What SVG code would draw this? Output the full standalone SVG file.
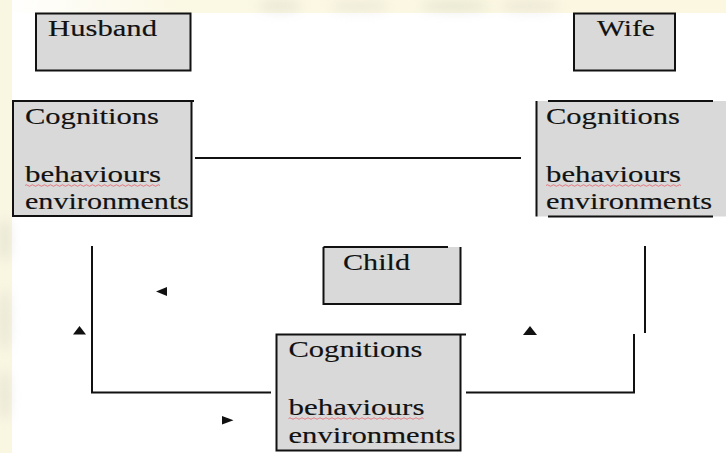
<svg xmlns="http://www.w3.org/2000/svg" width="726" height="453" viewBox="0 0 726 453">
  <style>
    .box { fill: #d9d9d9; stroke: none; }
    .edge { fill: none; stroke: #111; stroke-width: 2; }
    .lbl { font-family: "Liberation Serif", "Times New Roman", serif; font-size: 23.5px; fill: #111; stroke: #111; stroke-width: 0.15; }
    .wire { fill: none; stroke: #111; stroke-width: 2; }
    .tri { fill: #111; }
    .squiggle { fill: none; stroke: #e8606a; stroke-width: 0.8; }
  </style>
  <defs>
    <filter id="haze" x="-50%" y="-50%" width="200%" height="200%">
      <feGaussianBlur stdDeviation="6"/>
    </filter>
    <linearGradient id="topBand" x1="0" y1="0" x2="1" y2="0">
      <stop offset="0" stop-color="#ffffff"/>
      <stop offset="0.25" stop-color="#fbf8e4"/>
      <stop offset="1" stop-color="#fbf7e0"/>
    </linearGradient>
  </defs>

  <!-- page background with faint cream edge bands -->
  <rect x="0" y="0" width="726" height="453" fill="#ffffff"/>
  <rect x="0" y="0" width="726" height="13" fill="url(#topBand)"/>
  <rect x="0" y="0" width="12" height="453" fill="#f9f7e2"/>
  <g filter="url(#haze)" opacity="0.25">
    <ellipse cx="280" cy="6" rx="22" ry="6" fill="#b8b8b0"/>
    <ellipse cx="360" cy="6" rx="30" ry="6" fill="#c8c4c0"/>
    <ellipse cx="455" cy="6" rx="35" ry="6" fill="#b0b8a8"/>
    <ellipse cx="530" cy="6" rx="30" ry="6" fill="#c0bcb8"/>
    <ellipse cx="5" cy="240" rx="5" ry="22" fill="#a8a8a0"/>
    <ellipse cx="5" cy="320" rx="5" ry="32" fill="#b0b0a8"/>
    <ellipse cx="5" cy="395" rx="5" ry="26" fill="#b0b0a8"/>
  </g>

  <!-- connectors -->
  <g id="connectors">
    <line class="wire" x1="195" y1="158" x2="521" y2="158"/>
    <polyline class="wire" points="92,246 92,392.5 271,392.5"/>
    <line class="wire" x1="645" y1="246" x2="645" y2="333"/>
    <polyline class="wire" points="466,392.5 634,392.5 634,334"/>
    <polygon class="tri" points="156,291.5 167,287 167,296"/>
    <polygon class="tri" points="79.5,326 86,334.5 73,334.5"/>
    <polygon class="tri" points="222,416 233.5,420.2 222,424.5"/>
    <polygon class="tri" points="530,326 537,335 523,335"/>
  </g>

  <!-- Husband -->
  <g id="husband">
    <rect class="box" x="36" y="13.5" width="154.5" height="57"/>
    <rect class="edge" x="36" y="13.5" width="154.5" height="57"/>
    <text class="lbl" x="48" y="36" textLength="109" lengthAdjust="spacingAndGlyphs">Husband</text>
  </g>

  <!-- Wife -->
  <g id="wife">
    <rect class="box" x="574" y="13.5" width="101" height="57"/>
    <rect class="edge" x="574" y="13.5" width="101" height="57"/>
    <text class="lbl" x="597" y="36" textLength="58" lengthAdjust="spacingAndGlyphs">Wife</text>
  </g>

  <!-- Husband cognitions -->
  <g id="husband-cognitions">
    <rect class="box" x="13" y="101" width="178.5" height="115"/>
    <path class="edge" d="M12,101 H194 M13,101 V216 M191.5,101 V216 M12,216 H192.5"/>
    <text class="lbl" x="25" y="124" textLength="134" lengthAdjust="spacingAndGlyphs">Cognitions</text>
    <text class="lbl" x="25" y="182" textLength="136" lengthAdjust="spacingAndGlyphs">behaviours</text>
    <path class="squiggle" d="M25,185.5 q1.5,-1.5 3,0 t3,0 t3,0 t3,0 t3,0 t3,0 t3,0 t3,0 t3,0 t3,0 t3,0 t3,0 t3,0 t3,0 t3,0 t3,0 t3,0 t3,0 t3,0 t3,0 t3,0 t3,0 t3,0 t3,0 t3,0 t3,0 t3,0 t3,0 t3,0 t3,0 t3,0 t3,0 t3,0 t3,0 t3,0 t3,0 t3,0 t3,0 t3,0 t3,0 t3,0 t3,0 t3,0 t3,0 t3,0"/>
    <text class="lbl" x="25" y="209" textLength="164" lengthAdjust="spacingAndGlyphs">environments</text>
  </g>

  <!-- Wife cognitions -->
  <g id="wife-cognitions">
    <rect class="box" x="537" y="101" width="189" height="115.5"/>
    <path class="edge" d="M536.5,101 V216.5 M548,101 H713 M548,216.5 H713"/>
    <text class="lbl" x="546" y="124" textLength="134" lengthAdjust="spacingAndGlyphs">Cognitions</text>
    <text class="lbl" x="546" y="182" textLength="135" lengthAdjust="spacingAndGlyphs">behaviours</text>
    <path class="squiggle" d="M546,185.5 q1.5,-1.5 3,0 t3,0 t3,0 t3,0 t3,0 t3,0 t3,0 t3,0 t3,0 t3,0 t3,0 t3,0 t3,0 t3,0 t3,0 t3,0 t3,0 t3,0 t3,0 t3,0 t3,0 t3,0 t3,0 t3,0 t3,0 t3,0 t3,0 t3,0 t3,0 t3,0 t3,0 t3,0 t3,0 t3,0 t3,0 t3,0 t3,0 t3,0 t3,0 t3,0 t3,0 t3,0 t3,0 t3,0 t3,0"/>
    <text class="lbl" x="546" y="209" textLength="166" lengthAdjust="spacingAndGlyphs">environments</text>
  </g>

  <!-- Child -->
  <g id="child">
    <rect class="box" x="323.5" y="247" width="137" height="57"/>
    <path class="edge" d="M323.5,247 H448 M323.5,247 V304 M460.5,247 V304 M322.5,304 H461.5"/>
    <text class="lbl" x="343" y="269.5" textLength="67" lengthAdjust="spacingAndGlyphs">Child</text>
  </g>

  <!-- Child cognitions -->
  <g id="child-cognitions">
    <rect class="box" x="276.5" y="334.5" width="184" height="116"/>
    <path class="edge" d="M275.5,334.5 H466 M276.5,334.5 V450.5 M460.5,334.5 V450.5 M275.5,450.5 H461.5"/>
    <text class="lbl" x="288.5" y="357" textLength="134" lengthAdjust="spacingAndGlyphs">Cognitions</text>
    <text class="lbl" x="288.5" y="415" textLength="136" lengthAdjust="spacingAndGlyphs">behaviours</text>
    <path class="squiggle" d="M288.5,418.5 q1.5,-1.5 3,0 t3,0 t3,0 t3,0 t3,0 t3,0 t3,0 t3,0 t3,0 t3,0 t3,0 t3,0 t3,0 t3,0 t3,0 t3,0 t3,0 t3,0 t3,0 t3,0 t3,0 t3,0 t3,0 t3,0 t3,0 t3,0 t3,0 t3,0 t3,0 t3,0 t3,0 t3,0 t3,0 t3,0 t3,0 t3,0 t3,0 t3,0 t3,0 t3,0 t3,0 t3,0 t3,0 t3,0 t3,0"/>
    <text class="lbl" x="288.5" y="443" textLength="167" lengthAdjust="spacingAndGlyphs">environments</text>
  </g>
</svg>
